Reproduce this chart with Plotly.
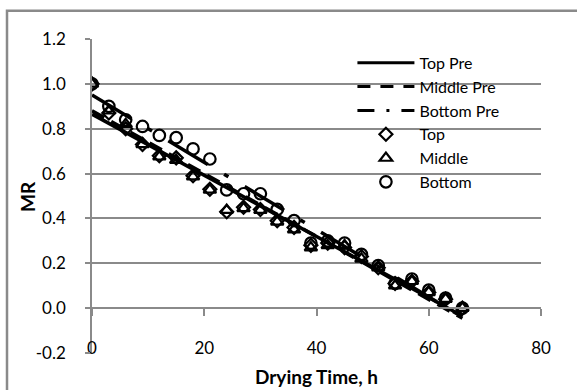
import plotly.graph_objects as go

# ---- data ----
time_h = [0, 3, 6, 9, 12, 15, 18, 21, 24, 27, 30, 33, 36, 39, 42, 45, 48, 51, 54, 57, 60, 63, 66]
mr_top = [1.0, 0.87, 0.80, 0.73, 0.68, 0.67, 0.59, 0.53, 0.43, 0.45, 0.44, 0.39, 0.36, 0.28, 0.29, 0.27,
          0.23, 0.18, 0.11, 0.12, 0.07, 0.04, 0.0]
mr_middle = [1.0, 0.88, 0.82, 0.73, 0.675, 0.66, 0.586, 0.527, 0.437, 0.445, 0.437, 0.385, 0.35, 0.27, 0.28,
             0.28, 0.22, 0.18, 0.10, 0.12, 0.07, 0.04, 0.0]
mr_bottom = [1.0, 0.90, 0.84, 0.81, 0.77, 0.76, 0.71, 0.665, 0.527, 0.51, 0.51, 0.44, 0.39, 0.29, 0.30, 0.29,
             0.24, 0.19, 0.11, 0.13, 0.08, 0.045, 0.0]

pre_time = [0, 66]
pre_top = [0.865, -0.035]
pre_middle = [0.88, -0.045]
pre_bottom = [0.95, -0.04]

x_ticks = [0, 20, 40, 60, 80]
y_ticks = [-0.2, 0.0, 0.2, 0.4, 0.6, 0.8, 1.0, 1.2]

FONT = "Lato"
GRAY = "#8a8a8a"

fig = go.Figure()

# predicted lines (drawn, legend handled by legend-only entries)
fig.add_trace(go.Scatter(x=pre_time, y=pre_middle, mode="lines", showlegend=False,
                         line=dict(color="black", width=3.5, dash="14px,8px")))
fig.add_trace(go.Scatter(x=pre_time, y=pre_top, mode="lines", showlegend=False,
                         line=dict(color="black", width=3.5)))
fig.add_trace(go.Scatter(x=pre_time, y=pre_bottom, mode="lines", showlegend=False,
                         line=dict(color="black", width=3.5, dash="46px,19px,5px,19px")))

# legend entries for the lines
fig.add_trace(go.Scatter(x=[None], y=[None], mode="lines", name="Top Pre",
                         line=dict(color="black", width=3)))
fig.add_trace(go.Scatter(x=[None], y=[None], mode="lines", name="Middle Pre",
                         line=dict(color="black", width=3, dash="13px,10px")))
fig.add_trace(go.Scatter(x=[None], y=[None], mode="lines", name="Bottom Pre",
                         line=dict(color="black", width=3, dash="17px,12px,3px,12px")))

# measured points
fig.add_trace(go.Scatter(x=time_h, y=mr_top, mode="markers", name="Top",
                         marker=dict(symbol="diamond-open", size=10, color="black",
                                     line=dict(width=2.2, color="black"))))
fig.add_trace(go.Scatter(x=time_h, y=mr_middle, mode="markers", name="Middle",
                         marker=dict(symbol="triangle-up-open", size=11, color="black",
                                     line=dict(width=2.2, color="black"))))
fig.add_trace(go.Scatter(x=time_h, y=mr_bottom, mode="markers", name="Bottom",
                         marker=dict(symbol="circle-open", size=11.5, color="black",
                                     line=dict(width=2.2, color="black"))))

fig.update_layout(
    width=577, height=390,
    margin=dict(l=92, r=36, t=39, b=37),
    paper_bgcolor="white", plot_bgcolor="white",
    font=dict(family=FONT, size=17, color="black"),
    showlegend=True,
    legend=dict(x=0.58, y=0.978, xanchor="left", yanchor="top",
                bgcolor="rgba(0,0,0,0)", itemwidth=57, tracegroupgap=0,
                font=dict(family=FONT, size=16, color="black")),
    xaxis=dict(range=[0, 80], tickvals=x_ticks, ticktext=[str(v) for v in x_ticks],
               anchor="free", position=1/7, showgrid=False, zeroline=False,
               showline=True, linecolor=GRAY, linewidth=1.5,
               ticks="outside", ticklen=7, tickcolor=GRAY, tickwidth=1.5,
               ticklabelstandoff=18, tickfont=dict(size=17), automargin=False,
               title=dict(text="<b>Drying Time, h</b>", font=dict(size=19), standoff=12)),
    yaxis=dict(range=[-0.2, 1.2], tickvals=y_ticks, ticktext=[f"{v:.1f}" for v in y_ticks],
               showgrid=True, gridcolor=GRAY, gridwidth=1.5, zeroline=False,
               showline=True, linecolor=GRAY, linewidth=1.5,
               ticks="outside", ticklen=5, tickcolor=GRAY, tickwidth=1.5,
               ticklabelstandoff=16, tickfont=dict(size=17), automargin=False),
    annotations=[dict(text="<b>MR</b>", xref="paper", yref="paper", x=-0.1425, y=0.497,
                      textangle=-90, showarrow=False, xanchor="center", yanchor="middle",
                      font=dict(family=FONT, size=19, color="black"))],
    shapes=[dict(type="rect", xref="paper", yref="paper",
                 x0=-0.1893, x1=1.3, y0=-0.2, y1=1.0903,
                 line=dict(color=GRAY, width=2.5), fillcolor="rgba(0,0,0,0)", layer="below")],
)

fig.write_html("out.html")
